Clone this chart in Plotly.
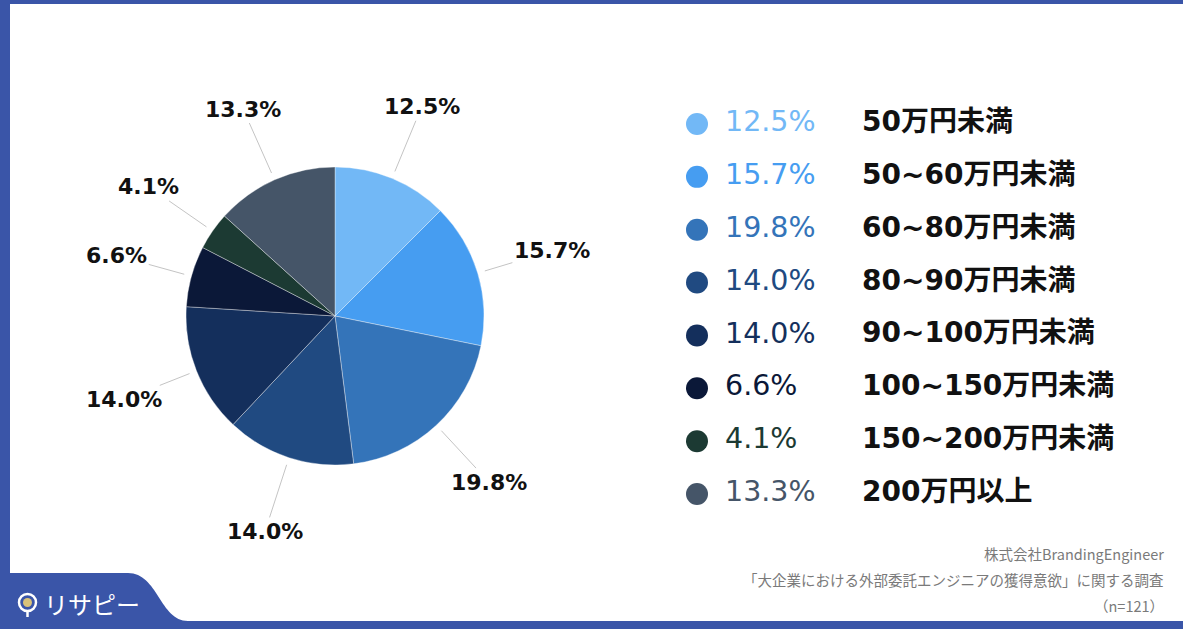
import math
import plotly.graph_objects as go

# ---------------- data ----------------
categories = ["50万円未満", "50~60万円未満", "60~80万円未満", "80~90万円未満",
              "90~100万円未満", "100~150万円未満", "150~200万円未満", "200万円以上"]
values = [12.5, 15.7, 19.8, 14.0, 14.0, 6.6, 4.1, 13.3]
colors = ["#72B8F6", "#469DF1", "#3474B9", "#204A81", "#142F5C", "#0B1838", "#1C3A33", "#455568"]
pct_text = [f"{v:.1f}%" for v in values]
source_lines = ["株式会社BrandingEngineer",
                "「大企業における外部委託エンジニアの獲得意欲」に関する調査",
                "（n=121）"]

# ---------------- geometry (layout constants) ----------------
W, H = 1183, 629
CX, CY, R = 335, 316, 149          # pie centre / radius in px
BORDER = "#3A55A8"
NUM_FONT = "DejaVu Sans"
JP_FONT = "Noto Sans CJK JP"
LBL_FONT = "DejaVu Sans, Noto Sans CJK JP"


def px(x):
    return x / W


def py(y):
    return 1 - y / H


fig = go.Figure()

# pie
fig.add_trace(go.Pie(
    values=values,
    labels=categories,
    marker=dict(colors=colors, line=dict(color="rgba(255,255,255,0.45)", width=0.8)),
    sort=False, direction="clockwise", rotation=0,
    textinfo="none", hoverinfo="skip", showlegend=False,
    domain=dict(x=[px(CX - R), px(CX + R)], y=[py(CY + R), py(CY - R)]),
))

# outside labels with leader lines
annotations = []
total = sum(values)
cum = 0.0
R_EDGE, R_TEXT = R * 1.05, R * 1.52
for v, t in zip(values, pct_text):
    mid = (cum + v / 2) / total * 2 * math.pi
    cum += v
    ex, ey = CX + R_EDGE * math.sin(mid), CY - R_EDGE * math.cos(mid)
    d = R_TEXT - R_EDGE
    annotations.append(dict(
        x=px(ex), y=py(ey), xref="paper", yref="paper",
        ax=d * math.sin(mid), ay=-d * math.cos(mid),
        text=t, showarrow=True, arrowhead=0, arrowwidth=1, arrowcolor="#C4C4C4",
        font=dict(family=NUM_FONT, size=22, color="#111111", weight="bold"),
        xanchor="center", yanchor="middle",
    ))

# custom legend as scatter traces on their own axes
rows = list(range(len(categories)))
fig.add_trace(go.Scatter(
    x=[697] * len(rows), y=rows, mode="markers",
    marker=dict(size=22, color=colors), hoverinfo="skip", showlegend=False,
    xaxis="x", yaxis="y"))
fig.add_trace(go.Scatter(
    x=[725] * len(rows), y=rows, mode="text", text=pct_text, textposition="middle right",
    textfont=dict(family=NUM_FONT, size=28.5, color=colors),
    hoverinfo="skip", showlegend=False, xaxis="x", yaxis="y"))
fig.add_trace(go.Scatter(
    x=[862] * len(rows), y=rows, mode="text", text=categories, textposition="middle right",
    textfont=dict(family=LBL_FONT, size=28, color="#111111", weight="bold"),
    hoverinfo="skip", showlegend=False, xaxis="x", yaxis="y"))

ROW0, PITCH = 124, 52.86
top_px = ROW0 - PITCH / 2
bot_px = top_px + PITCH * len(rows)

# source notes
for i, line in enumerate(source_lines):
    annotations.append(dict(
        x=px(1166), y=py(553 + i * 26), xref="paper", yref="paper",
        text=line, showarrow=False, xanchor="right", yanchor="middle",
        font=dict(family=JP_FONT, size=14.5, color="#7A7A7A")))

# logo text
annotations.append(dict(
    x=px(42), y=py(603), xref="paper", yref="paper", text="リサピー",
    showarrow=False, xanchor="left", yanchor="middle",
    font=dict(family=JP_FONT, size=24, color="white")))

# frame shapes
shapes = [
    dict(type="rect", xref="paper", yref="paper", x0=0, x1=1, y0=py(4), y1=1,
         fillcolor=BORDER, line=dict(width=0), layer="below"),
    dict(type="rect", xref="paper", yref="paper", x0=0, x1=px(10), y0=0, y1=1,
         fillcolor=BORDER, line=dict(width=0), layer="below"),
    dict(type="path", xref="paper", yref="paper",
         path=(f"M 0 {py(573)} L {px(128)} {py(573)} "
               f"C {px(158)} {py(573)} {px(160)} {py(621)} {px(188)} {py(621)} "
               f"L 1 {py(621)} L 1 0 L 0 0 Z"),
         fillcolor=BORDER, line=dict(width=0), layer="below"),
    # logo pin icon
    dict(type="circle", xref="paper", yref="paper",
         x0=px(19), x1=px(36), y0=py(611), y1=py(594),
         fillcolor="rgba(0,0,0,0)", line=dict(color="white", width=2.5)),
    dict(type="circle", xref="paper", yref="paper",
         x0=px(23), x1=px(32), y0=py(607), y1=py(598),
         fillcolor="#D9C27A", line=dict(width=0)),
    dict(type="line", xref="paper", yref="paper",
         x0=px(27.5), x1=px(27.5), y0=py(611), y1=py(617),
         line=dict(color="white", width=2.5)),
]

fig.update_layout(
    width=W, height=H,
    margin=dict(l=0, r=0, t=0, b=0),
    paper_bgcolor="white", plot_bgcolor="rgba(0,0,0,0)",
    xaxis=dict(domain=[px(660), px(1180)], range=[660, 1180], visible=False, fixedrange=True),
    yaxis=dict(domain=[py(bot_px), py(top_px)], range=[len(rows) - 0.5, -0.5],
               visible=False, fixedrange=True),
    annotations=annotations,
    shapes=shapes,
)

fig.write_html("out.html", config={"displayModeBar": False},
               post_script="document.body.style.margin='0';document.body.style.overflow='hidden';")
